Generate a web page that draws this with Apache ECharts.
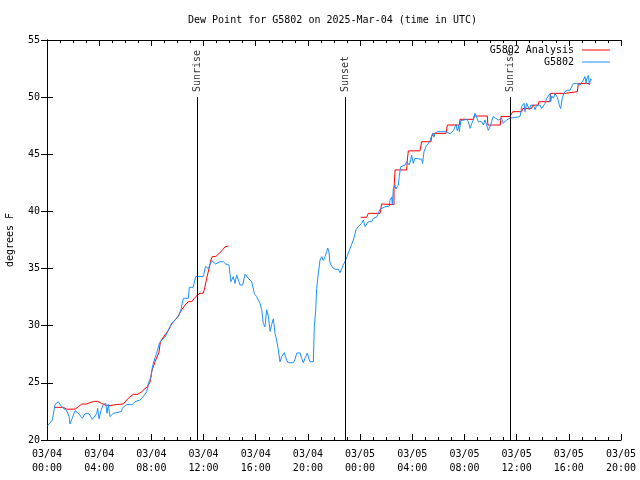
<!DOCTYPE html>
<html>
<head>
<meta charset="utf-8">
<script src="https://cdn.jsdelivr.net/npm/echarts@6/dist/echarts.min.js"></script>
<style>html,body{margin:0;padding:0;background:#fff}#c{width:640px;height:480px}</style>
</head>
<body>
<div id="c"></div>
<script>
// hours since 2025-03-04 00:00 UTC
const blueHours = [0.05,0.41,0.61,0.87,1.07,1.25,1.51,1.69,1.76,1.89,2.15,2.4,2.71,2.91,3.22,3.47,3.81,3.88,3.99,4.14,4.32,4.5,4.6,4.7,4.83,5.08,5.2,5.72,5.76,6.1,6.53,6.75,7.13,7.38,7.64,7.77,7.97,8.08,8.23,8.41,8.61,8.79,9.05,9.3,9.56,9.81,10.07,10.27,10.45,10.83,10.91,11.2,11.4,11.98,12.16,12.37,12.62,12.93,13.26,13.52,13.7,13.81,13.95,14.1,14.28,14.41,14.54,14.8,15.0,15.18,15.43,15.69,15.9,16.07,16.33,16.46,16.58,16.71,16.84,16.97,17.1,17.22,17.35,17.48,17.6,17.73,17.86,17.99,18.19,18.37,18.5,18.88,19.0,19.14,19.39,19.52,19.65,19.77,19.95,20.16,20.42,20.49,20.6,20.67,20.8,20.93,21.06,21.18,21.31,21.44,21.52,21.62,21.69,21.88,22.08,22.34,22.46,22.71,22.9,23.23,23.48,23.69,23.87,24.12,24.25,24.38,24.5,24.63,24.76,24.89,25.01,25.14,25.27,25.4,25.53,25.65,25.91,26.24,26.29,26.42,26.47,26.55,26.67,26.75,26.93,27.0,27.11,27.19,27.44,27.57,27.7,27.77,27.88,27.95,28.08,28.21,28.33,28.72,28.79,28.9,29.05,29.23,29.36,29.49,29.56,29.67,29.74,29.92,30.59,30.68,30.9,31.03,31.15,31.28,31.36,31.45,31.55,31.61,31.72,31.81,32.17,32.3,32.43,32.56,32.68,32.81,32.94,33.06,33.19,33.32,33.45,33.57,33.7,33.83,33.95,34.08,34.21,34.41,34.59,34.85,34.97,35.1,35.23,35.48,35.62,36.26,36.39,36.57,36.64,36.77,36.9,36.97,37.08,37.15,37.28,37.41,37.54,37.79,37.92,38.05,38.18,38.3,38.43,38.56,38.61,38.69,38.82,38.94,39.12,39.27,39.37,39.51,39.71,39.9,40.09,40.22,40.35,40.47,40.6,40.73,40.86,40.99,41.11,41.24,41.32,41.37,41.5,41.57,41.67,41.76];
const blueDew = [21.25,21.75,23.1,23.35,23.0,22.77,22.57,22.05,21.4,21.4,22.57,22.33,21.9,22.3,22.3,21.8,22.3,22.77,21.85,22.6,23.1,23.2,22.33,23.1,22.05,22.33,22.5,22.5,22.77,23.1,23.1,23.35,23.5,23.8,24.23,24.96,25.5,26.4,27.0,27.6,28.46,28.75,29.0,29.6,30.2,30.5,30.8,31.4,32.4,32.4,33.36,33.36,34.3,34.3,35.2,35.0,35.7,35.4,35.6,35.6,35.4,35.5,35.3,33.85,34.3,33.7,34.44,33.56,33.56,34.5,34.15,33.85,32.8,32.54,31.96,31.4,30.2,29.9,31.4,30.8,29.5,30.1,30.6,29.33,28.75,27.9,26.85,27.3,27.64,27.0,26.76,26.76,27.0,27.6,27.64,27.15,26.76,27.15,27.6,26.85,26.85,29.9,31.4,33.27,34.6,35.75,36.05,35.7,36.05,36.5,36.8,36.4,35.5,35.1,34.94,34.94,34.64,35.3,35.75,36.75,37.5,38.4,38.67,38.96,39.25,38.67,38.7,39.1,39.2,39.1,39.4,39.55,39.5,39.84,40.2,40.3,40.4,40.47,41.0,41.25,40.6,42.0,42.3,41.96,42.3,43.04,43.9,44.04,44.06,44.35,44.5,44.06,44.5,44.94,44.2,44.65,44.65,44.56,44.2,45.23,45.67,45.96,46.2,46.25,46.83,46.5,46.83,46.98,46.98,46.83,46.8,46.75,47.06,47.4,47.6,47.06,47.5,46.98,47.94,48.05,48.05,47.85,47.27,47.7,48.0,48.6,48.5,47.85,48.0,47.85,47.56,48.0,47.56,47.1,47.4,47.85,48.3,48.15,48.0,48.15,47.7,47.85,48.0,48.15,48.3,48.3,49.17,49.46,48.73,49.46,49.5,48.9,49.3,49.46,49.3,48.9,49.3,49.3,49.0,49.15,49.46,49.9,50.0,50.3,49.6,50.1,49.9,50.3,50.0,49.3,49.0,50.0,50.5,50.6,50.6,50.75,51.2,51.06,51.2,51.2,51.06,50.9,51.5,51.8,51.2,51.6,51.9,51.06,51.6,51.5];

const redHours = [0.61,1.25,1.51,2.15,2.4,2.66,3.04,3.3,3.63,3.88,4.19,4.45,4.83,5.08,5.34,5.85,6.23,6.62,6.95,7.26,7.51,7.72,7.9,8.03,8.28,8.59,8.69,8.84,9.05,9.3,9.56,9.81,10.07,10.32,10.58,10.83,11.09,11.29,11.55,11.73,11.98,12.11,12.24,12.42,12.57,12.67,12.93,13.08,13.26,13.44,13.64,13.77,13.9,
  18.0,
  24.05,24.5,24.63,25.53,25.58,25.65,26.6,26.6,26.68,27.57,27.62,27.7,28.59,28.72,29.43,29.49,29.62,30.59,30.69,31.61,31.66,32.7,32.73,33.75,33.8,34.75,34.8,35.5,35.55,35.7,36.39,36.47,37.15,37.23,37.65,37.7,38.55,38.6,39.71,39.79,40.65,40.73,41.65];
const redDew = [22.86,22.86,22.7,22.7,22.9,23.15,23.15,23.27,23.38,23.38,23.2,23.06,23.0,23.06,23.1,23.15,23.65,24.0,24.0,24.23,24.5,24.67,25.1,26.0,26.85,27.7,28.6,28.75,29.2,29.6,30.15,30.5,30.85,31.4,31.8,32.1,32.1,32.4,32.7,32.84,32.84,33.4,34.15,35.0,35.75,36.05,36.05,36.2,36.4,36.6,36.9,36.97,36.97,
  null,
  39.49,39.49,39.83,39.83,40.12,40.65,40.6,42.02,43.63,43.63,44.5,45.3,45.3,46.1,46.1,46.54,46.83,46.83,47.56,47.56,48.06,48.06,48.35,48.35,47.56,47.56,48.3,48.3,48.44,48.73,48.73,49.0,49.0,49.3,49.3,49.6,49.6,50.33,50.33,50.48,50.48,51.2,51.2];

const eventNames = ['Sunrise','Sunset','Sunrise'];
const eventHours = [11.52, 22.88, 35.5];

const xTickLabels = ['03/04\n00:00','03/04\n04:00','03/04\n08:00','03/04\n12:00','03/04\n16:00','03/04\n20:00','03/05\n00:00','03/05\n04:00','03/05\n08:00','03/05\n12:00','03/05\n16:00','03/05\n20:00'];
const yTicks = [20,25,30,35,40,45,50,55];

const FONT = 'DejaVu Sans Mono';
const BLUE = '#1e90ff';
const RED = '#ff0000';

const chart = echarts.init(document.getElementById('c'), null, {renderer:'canvas'});
const axisLine = {show:true, lineStyle:{color:'#000', width:1}};
const txt = {fontFamily:FONT, fontSize:10, color:'#000'};

const blueData = blueHours.map((h,i)=>[h, blueDew[i]]);
const redData = redHours.map((h,i)=>[h, redDew[i]]);

chart.setOption({
  animation:false,
  backgroundColor:'#fff',
  title:{text:'Dew Point for G5802 on 2025-Mar-04 (time in UTC)', left:183, top:10,
    textStyle:{fontFamily:FONT, fontSize:10, fontWeight:'normal', color:'#000'}},
  grid:{left:47, right:19, top:40, bottom:40, containLabel:false, outerBoundsMode:'none'},
  legend:{data:[{name:'G5802 Analysis', icon:'rect'},{name:'G5802', icon:'rect'}],
    orient:'vertical', align:'right', right:25, top:39,
    itemWidth:28, itemHeight:1, itemGap:0, textStyle:Object.assign({padding:[0,3,0,0], lineHeight:12}, txt)},
  xAxis:[
    {type:'value', min:0, max:44, interval:4, position:'bottom',
     axisLine, axisTick:{inside:true, length:6, lineStyle:{color:'#000'}},
     minorTick:{show:true, splitNumber:4, length:3, lineStyle:{color:'#000'}},
     splitLine:{show:false},
     axisLabel:Object.assign({margin:7, lineHeight:14, formatter:v=>xTickLabels[Math.round(v/4)]}, txt)},
    {type:'value', min:0, max:44, interval:4, position:'top',
     axisLine, axisTick:{inside:true, length:6, lineStyle:{color:'#000'}},
     minorTick:{show:true, splitNumber:4, length:3, lineStyle:{color:'#000'}},
     splitLine:{show:false}, axisLabel:{show:false}}
  ],
  yAxis:[
    {type:'value', min:yTicks[0], max:yTicks[yTicks.length-1], interval:5, position:'left',
     name:'degrees F', nameLocation:'middle', nameGap:32, nameRotate:90,
     nameTextStyle:txt,
     axisLine, axisTick:{inside:true, length:6, lineStyle:{color:'#000'}},
     splitLine:{show:false},
     axisLabel:Object.assign({margin:7}, txt)},
    {type:'value', min:yTicks[0], max:yTicks[yTicks.length-1], interval:5, position:'right',
     axisLine, axisTick:{inside:true, length:6, lineStyle:{color:'#000'}},
     splitLine:{show:false}, axisLabel:{show:false}}
  ],
  series:[
    {name:'G5802 Analysis', type:'line', data:redData, symbol:'none', showSymbol:false,
     connectNulls:false, lineStyle:{color:RED, width:1}, itemStyle:{color:RED}, z:3},
    {name:'G5802', type:'line', data:blueData, symbol:'none', showSymbol:false,
     lineStyle:{color:BLUE, width:1}, itemStyle:{color:BLUE}, z:4,
     markLine:{silent:true, symbol:['none','none'], animation:false,
       lineStyle:{color:'#000', width:1, type:'solid'}, label:{show:false},
       data:eventHours.map(h=>[{coord:[h,20]},{coord:[h,50]}])}},
    {name:'events', type:'scatter', symbolSize:0,
     data:eventHours.map((h,i)=>({value:[h,50.45], name:eventNames[i]})),
     label:Object.assign({show:true, position:'inside', rotate:90, align:'left', verticalAlign:'middle',
       formatter:p=>p.name}, txt), z:5}
  ]
});
</script>
</body>
</html>
